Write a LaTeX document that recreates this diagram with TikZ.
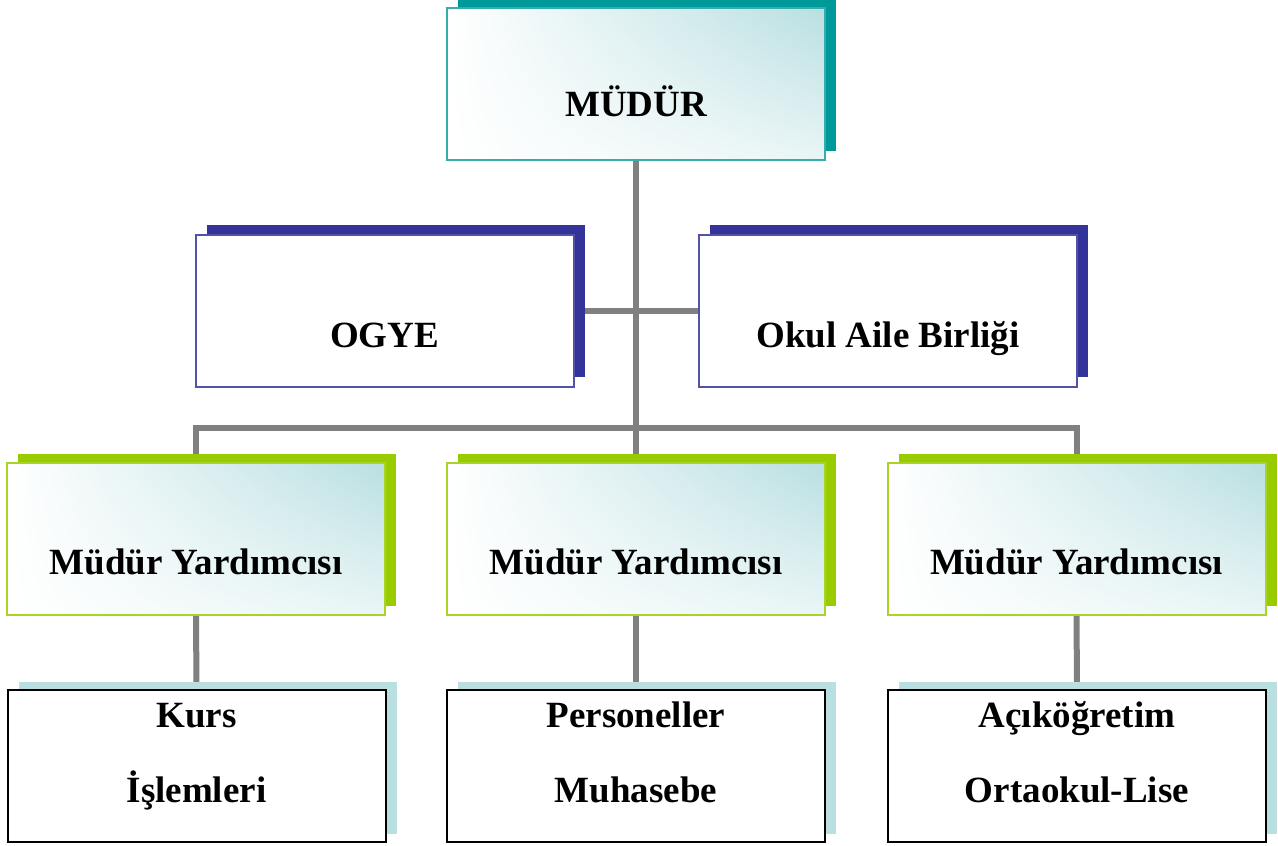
\documentclass[tikz,border=0pt]{standalone}
\usepackage{fontspec}
\setmainfont{Liberation Serif}
\usetikzlibrary{positioning,shadows,shadings,backgrounds}

\definecolor{tealdark}{RGB}{0,153,153}
\definecolor{navyblue}{RGB}{51,51,153}
\definecolor{limegreen}{RGB}{153,204,0}
\definecolor{paleblue}{RGB}{185,223,225}
\definecolor{linegray}{RGB}{128,128,128}

\begin{document}
\begin{tikzpicture}[
    x=0.5pt, y=-0.5pt,
    box/.style={rectangle, minimum width=189pt, minimum height=76pt, inner sep=0pt, line width=1pt},
    txt/.style={font=\fontsize{18.5}{37.5}\selectfont\bfseries, align=center, text height=13pt, text depth=4pt},
    pale/.style={shade, upper right=paleblue, upper left=white, lower left=white, lower right=paleblue!30},
    headbox/.style={box, pale, draw=tealdark!80, general shadow={fill=tealdark, shadow xshift=5.5pt, shadow yshift=4.5pt}},
    sidebox/.style={box, fill=white, draw=navyblue!85, general shadow={fill=navyblue, shadow xshift=5.5pt, shadow yshift=5pt}},
    deputybox/.style={box, pale, draw=limegreen!85, general shadow={fill=limegreen, shadow xshift=5.5pt, shadow yshift=4.5pt}},
    taskbox/.style={box, fill=white, draw=black, general shadow={fill=paleblue, shadow xshift=5.5pt, shadow yshift=4pt}},
    conn/.style={draw=linegray, line width=3pt}
]
\useasboundingbox (0,0) rectangle (1278,845);

% Head
\node[headbox, label={[txt, yshift=-11.3pt]center:MÜDÜR}] (mudur) at (636,84.5) {};

% Boards
\node[sidebox, label={[txt, yshift=-13.6pt]center:OGYE}] (ogye) at (384.5,311) {};
\node[sidebox, label={[txt, yshift=-13.6pt]center:Okul Aile Birliği}] (oab) at (888,311) {};

% Deputies
\node[deputybox, label={[txt, yshift=-13.4pt]center:Müdür Yardımcısı}] (my1) at (196,538.5) {};
\node[deputybox, label={[txt, yshift=-13.4pt]center:Müdür Yardımcısı}] (my2) at (636,538.5) {};
\node[deputybox, label={[txt, yshift=-13.4pt]center:Müdür Yardımcısı}] (my3) at (1076.5,538.5) {};

% Tasks
\node[taskbox, label={[txt, yshift=-14.1pt]center:Kurs\\İşlemleri}] (kurs) at (196.5,765.5) {};
\node[taskbox, label={[txt, yshift=-14.1pt]center:Personeller\\Muhasebe}] (pers) at (636,765.5) {};
\node[taskbox, label={[txt, yshift=-14.1pt]center:Açıköğretim\\Ortaokul-Lise}] (acik) at (1077,765.5) {};

% Connections
\coordinate (bus) at (636,428);
\begin{scope}[on background layer]
\draw[conn] (mudur.south) -- (my2.north);
\draw[conn] (ogye.east) -- (oab.west);
\draw[conn] (my1.north) |- (bus) -| (my3.north);
\draw[conn] (my1.south) -- (kurs.north);
\draw[conn] (my2.south) -- (pers.north);
\draw[conn] (my3.south) -- (acik.north);
\end{scope}

\end{tikzpicture}
\end{document}
